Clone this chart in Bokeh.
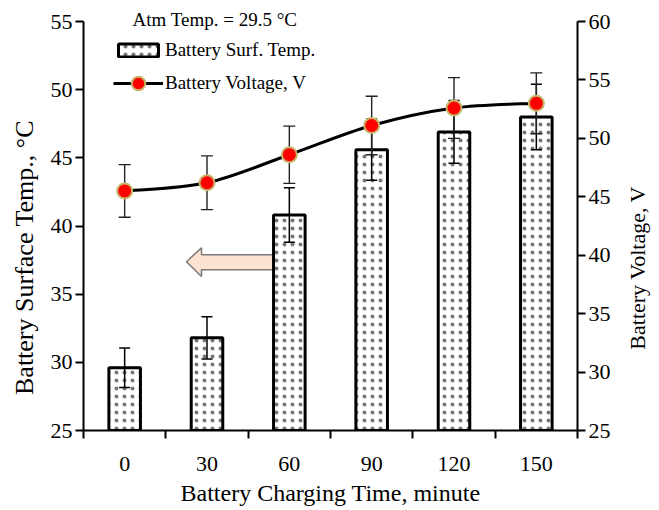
import math
import numpy as np
from bokeh.plotting import figure
from bokeh.models import (Range1d, LinearAxis, FixedTicker, Legend, LegendItem, Label)
from bokeh.embed import file_html
from bokeh.resources import INLINE

# ---------------- data ----------------
time_min = [0, 30, 60, 90, 120, 150]
surf_temp = [29.6, 31.8, 40.8, 45.6, 46.9, 48.0]
surf_temp_err = [1.45, 1.55, 2.0, 2.25, 2.3, 2.4]
voltage = [45.5, 46.2, 48.6, 51.1, 52.6, 53.0]
voltage_err = [2.25, 2.3, 2.45, 2.5, 2.6, 2.6]
temp_ticks = [25, 30, 35, 40, 45, 50, 55]
volt_ticks = [25, 30, 35, 40, 45, 50, 55, 60]
atm_note = "Atm Temp. = 29.5 \u00b0C"
left_title = "Battery Surface Temp., \u00b0C"
right_title = "Battery Voltage, V"
bottom_title = "Battery Charging Time, minute"

FONT = "Liberation Serif"
step = time_min[1] - time_min[0]
x_lo, x_hi = time_min[0] - step / 2, time_min[-1] + step / 2

p = figure(width=659, height=510, output_backend="svg", toolbar_location=None,
           x_range=Range1d(x_lo, x_hi),
           y_range=Range1d(temp_ticks[0], temp_ticks[-1]),
           min_border_left=83, min_border_right=82, min_border_top=18, min_border_bottom=80)
p.extra_y_ranges = {"v": Range1d(volt_ticks[0], volt_ticks[-1])}
p.outline_line_color = None
p.xgrid.visible = False
p.ygrid.visible = False
p.background_fill_color = "white"
p.border_fill_color = "white"

# arrow annotation (time, temp coordinates)
arrow_x = [22.5, 28.0, 28.0, 54.0, 54.0, 28.0, 28.0]
arrow_y = [37.38, 38.4, 37.9, 37.9, 36.8, 36.8, 36.3]
p.patch(arrow_x, arrow_y, fill_color="#fce3d2", line_color="#7a7a7a", line_width=1.5)

# bars
bars = p.vbar(x=time_min, top=surf_temp, bottom=temp_ticks[0], width=11.5,
              fill_color="white", line_color="black", line_width=3,
              hatch_pattern="dot", hatch_color="#777777", hatch_scale=8, hatch_weight=0.6)

# bar error bars
t_lo = [t - e for t, e in zip(surf_temp, surf_temp_err)]
t_hi = [t + e for t, e in zip(surf_temp, surf_temp_err)]
p.segment(x0=time_min, y0=t_lo, x1=time_min, y1=t_hi, line_color="black", line_width=1.5)
p.scatter(x=time_min + time_min, y=t_lo + t_hi, marker="dash", size=11,
          line_color="black", line_width=1.5)

# voltage error bars
v_lo = [v - e for v, e in zip(voltage, voltage_err)]
v_hi = [v + e for v, e in zip(voltage, voltage_err)]
p.segment(x0=time_min, y0=v_lo, x1=time_min, y1=v_hi, line_color="#222222",
          line_width=1.4, y_range_name="v")
p.scatter(x=time_min + time_min, y=v_lo + v_hi, marker="dash", size=12,
          line_color="#222222", line_width=1.4, y_range_name="v")

# smooth voltage curve (Catmull-Rom -> cubic Bezier through the data points)
xs = np.array(time_min, float)
ys = np.array(voltage, float)
xp = np.concatenate([[xs[0]], xs, [xs[-1]]])
yp = np.concatenate([[ys[0]], ys, [ys[-1]]])
n = len(xs)
bx0, by0, bx1, by1, bcx0, bcy0, bcx1, bcy1 = [], [], [], [], [], [], [], []
for i in range(n - 1):
    bx0.append(xp[i + 1]); by0.append(yp[i + 1])
    bx1.append(xp[i + 2]); by1.append(yp[i + 2])
    bcx0.append(xp[i + 1] + (xp[i + 2] - xp[i]) / 6)
    bcy0.append(yp[i + 1] + (yp[i + 2] - yp[i]) / 6)
    bcx1.append(xp[i + 2] - (xp[i + 3] - xp[i + 1]) / 6)
    bcy1.append(yp[i + 2] - (yp[i + 3] - yp[i + 1]) / 6)
curve = p.bezier(x0=bx0, y0=by0, x1=bx1, y1=by1, cx0=bcx0, cy0=bcy0, cx1=bcx1, cy1=bcy1,
                 line_color="black", line_width=3, y_range_name="v")
pts = p.scatter(x=time_min, y=voltage, size=15, fill_color="#ff0000",
                line_color="#c8b46a", line_width=2, y_range_name="v")

# axes
def style_axis(ax):
    ax.axis_line_width = 2
    ax.axis_line_color = "black"
    ax.major_tick_line_width = 2
    ax.major_tick_line_color = "black"
    ax.major_label_text_font = FONT
    ax.major_label_text_font_size = "22px"
    ax.major_label_text_color = "black"
    ax.axis_label_text_font = FONT
    ax.axis_label_text_font_style = "normal"
    ax.axis_label_text_color = "black"

ly = p.yaxis[0]
style_axis(ly)
ly.ticker = FixedTicker(ticks=temp_ticks)
ly.major_tick_out = 8
ly.major_tick_in = 0
ly.minor_tick_out = 0
ly.minor_tick_in = 0
ly.major_label_standoff = 3

ry = LinearAxis(y_range_name="v", ticker=FixedTicker(ticks=volt_ticks))
style_axis(ry)
ry.major_tick_out = 8
ry.major_tick_in = 0
ry.minor_tick_out = 0
ry.minor_tick_in = 0
ry.major_label_standoff = 3
p.add_layout(ry, "right")

bx = p.xaxis[0]
style_axis(bx)
bounds = [t - step / 2 for t in time_min] + [time_min[-1] + step / 2]
bx.ticker = FixedTicker(ticks=time_min, minor_ticks=bounds)
bx.major_tick_out = 0
bx.major_tick_in = 0
bx.minor_tick_out = 8
bx.minor_tick_in = 0
bx.minor_tick_line_width = 2
bx.minor_tick_line_color = "black"
bx.major_label_standoff = 18
bx.axis_label = bottom_title
bx.axis_label_text_font_size = "24px"
bx.axis_label_standoff = 6

# legends
leg_bar = Legend(items=[LegendItem(label="Battery Surf. Temp.", renderers=[bars])],
                 location=(30, 369), padding=0, margin=0,
                 glyph_width=50, glyph_height=16, label_height=20, label_standoff=2,
                 border_line_color=None, background_fill_alpha=0,
                 label_text_font=FONT, label_text_font_size="19px", label_text_color="black")
leg_line = Legend(items=[LegendItem(label="Battery Voltage, V", renderers=[curve, pts])],
                  location=(30, 330), padding=0, margin=0,
                  glyph_width=50, glyph_height=34, label_height=20, label_standoff=2,
                  border_line_color=None, background_fill_alpha=0,
                  label_text_font=FONT, label_text_font_size="19px", label_text_color="black")
p.add_layout(leg_bar)
p.add_layout(leg_line)

# texts outside the frame
p.add_layout(Label(x=49, y=2, x_units="screen", y_units="screen", text=atm_note,
                   text_font=FONT, text_font_size="19px", text_color="black",
                   text_baseline="middle"), "above")
p.add_layout(Label(x=6, y=173, x_units="screen", y_units="screen", text=left_title,
                   text_font=FONT, text_font_size="26px", text_color="black",
                   text_baseline="middle", text_align="center", angle=math.pi / 2), "left")
# right title: placed in data units of the main scales (frame 83..577 px, 18..430 px)
rt_x = x_lo + (637 - 83) / 494 * (x_hi - x_lo)
rt_y = temp_ticks[0] + (430 - 266) / 412 * (temp_ticks[-1] - temp_ticks[0])
p.add_layout(Label(x=rt_x, y=rt_y, text=right_title,
                   text_font=FONT, text_font_size="22px", text_color="black",
                   text_baseline="middle", text_align="center", angle=math.pi / 2), "right")

open("out.html", "w").write(file_html(p, INLINE))
